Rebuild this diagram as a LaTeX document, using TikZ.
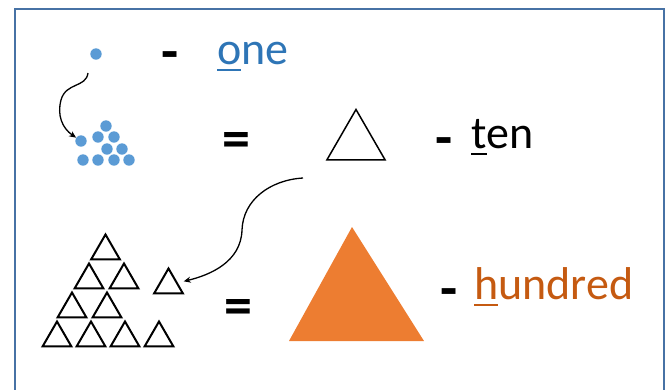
\documentclass[tikz,border=0pt]{standalone}
\usepackage{fontspec}
\setmainfont{Carlito}
\usetikzlibrary{arrows.meta, shapes.geometric}

\definecolor{dotblue}{RGB}{91,155,213}
\definecolor{wordblue}{RGB}{46,117,182}
\definecolor{hundorange}{RGB}{237,125,49}
\definecolor{wordorange}{RGB}{197,90,17}
\definecolor{framecol}{RGB}{71,114,165}

\newlength\ulwd
\newcommand\ulfirst[1]{\settowidth\ulwd{#1}\rlap{\rule[-7pt]{\ulwd}{2pt}}#1}

\tikzset{
  unit/.style={circle, fill=dotblue, inner sep=0pt, minimum size=11.4pt},
  tentri/.style={regular polygon, regular polygon sides=3, draw, line width=2pt, inner sep=0pt, minimum size=33pt},
  word/.style={anchor=base west, inner sep=0pt, font=\fontsize{46}{52}\selectfont},
  sign/.style={inner sep=0pt, font=\fontsize{56}{60}\selectfont\bfseries},
  link/.style={line width=1.3pt, -{Stealth[length=7pt,width=6pt]}}
}

\begin{document}
\begin{tikzpicture}[x=1pt,y=-1pt]
  \useasboundingbox (0,0) rectangle (670,389);
  \draw[framecol, line width=2.5pt] (15,9) rectangle (664,400); % frame

  % one
  \node[unit] (one) at (96,54) {};
  \node[sign] (dashone) at (170,61) {-};
  \node[word, text=wordblue] (wone) at (217,64) {\ulfirst{o}ne};

  % ten dots
  \foreach \x/\y [count=\i] in {106/126, 98/137, 114/137, 81/141, 107/149, 122/149, 83/160, 98/160, 114/160, 129/160}
    \node[unit] (d\i) at (\x,\y) {};
  \coordinate (onetail) at (88,73);
  \draw[link] (onetail) .. controls (86,88) and (66,82) .. (61,100)
    .. controls (57,115) and (62,128) .. (d4);

  % ten
  \node[sign] (eqten) at (236.5,145) {=};
  \node[regular polygon, regular polygon sides=3, draw, line width=1.5pt, inner sep=0pt, minimum size=67pt] (ten) at (356,143) {};
  \node[sign] (dashten) at (444,147) {-};
  \node[word] (wten) at (471,148) {\ulfirst{t}en};

  % ten triangles
  \foreach \x/\y [count=\i] in {105.5/251, 89/280, 124/280, 72/309, 107/309, 57/338, 91/338, 125/338, 159/338, 168.5/285}
    \node[tentri] (t\i) at (\x,\y) {};
  \coordinate (tentail) at (303,178);
  \draw[link, shorten >=6pt] (tentail) .. controls (270,180) and (243,200) .. (242,230)
    .. controls (241,262) and (210,275) .. (t10);

  % hundred
  \node[sign] (eqhund) at (238.5,311.5) {=};
  \fill[hundorange] (289,341) -- (352,227) -- (424,341) -- cycle; % big triangle
  \node[sign] (dashhund) at (449,298) {-};
  \node[word, text=wordorange] (whund) at (474,299) {\ulfirst{h}undred};
\end{tikzpicture}
\end{document}
